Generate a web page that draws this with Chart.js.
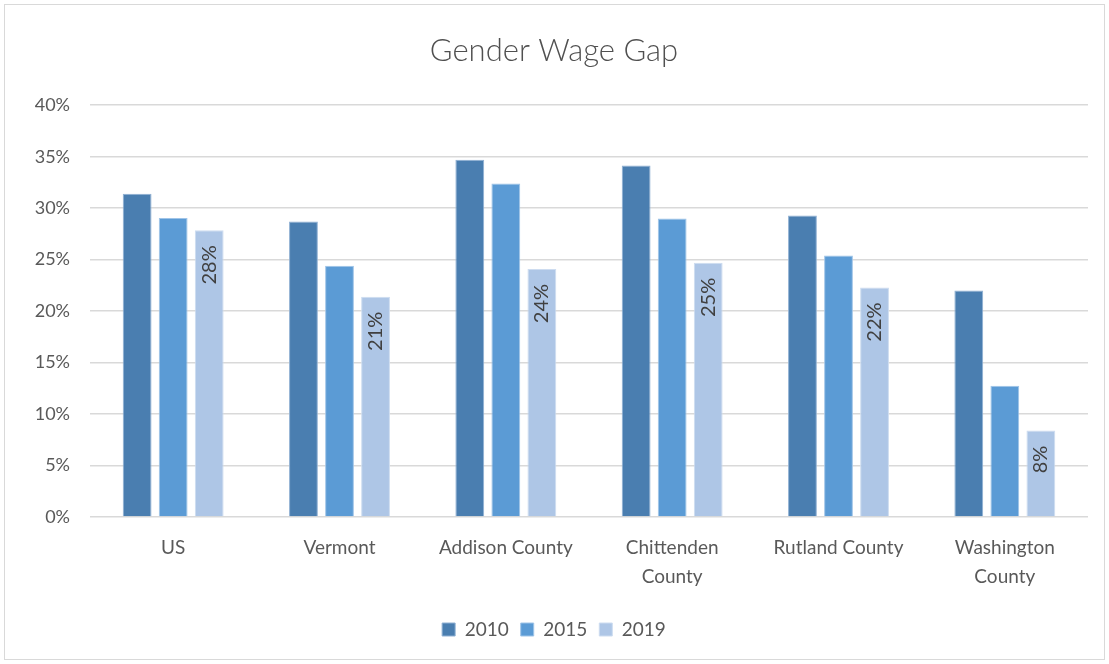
<!DOCTYPE html>
<html>
<head>
<meta charset="utf-8">
<script src="https://cdn.jsdelivr.net/npm/chart.js@4"></script>
<style>
html,body{margin:0;padding:0;background:#fff;}
#wrap{width:1109px;height:664px;position:relative;}
</style>
</head>
<body>
<div id="wrap"><canvas id="c" width="1109" height="664"></canvas></div>
<script>
const categories = ["US", "Vermont", "Addison County", ["Chittenden", "County"], "Rutland County", ["Washington", "County"]];
const series2010 = [31.4, 28.7, 34.7, 34.15, 29.3, 22.0];
const series2015 = [29.05, 24.4, 32.4, 29.0, 25.4, 12.75];
const series2019 = [27.85, 21.4, 24.1, 24.7, 22.3, 8.4];
const seriesNames = ["2010", "2015", "2019"];
const yTicks = [0, 5, 10, 15, 20, 25, 30, 35, 40];

const FONT = "Lato, 'Open Sans', sans-serif";

const bgPlugin = {
  id: 'bg',
  beforeDraw(chart) {
    const ctx = chart.ctx;
    ctx.save();
    ctx.fillStyle = '#fff';
    ctx.fillRect(0, 0, chart.width, chart.height);
    ctx.strokeStyle = '#d9d9d9';
    ctx.lineWidth = 1;
    ctx.strokeRect(4.5, 4.5, chart.width - 9, chart.height - 9);
    ctx.restore();
  }
};

const labelPlugin = {
  id: 'vlabels',
  afterDatasetsDraw(chart) {
    const ctx = chart.ctx;
    const meta = chart.getDatasetMeta(2);
    ctx.save();
    ctx.font = "20px " + FONT;
    ctx.fillStyle = '#404040';
    ctx.textAlign = 'right';
    ctx.textBaseline = 'middle';
    meta.data.forEach((bar, i) => {
      const v = series2019[i];
      ctx.save();
      ctx.translate(bar.x, bar.y + 15);
      ctx.rotate(-Math.PI / 2);
      ctx.fillText(Math.round(v) + '%', 0, 0);
      ctx.restore();
    });
    ctx.restore();
  }
};

new Chart(document.getElementById('c'), {
  type: 'bar',
  data: {
    labels: categories,
    datasets: [
      { label: seriesNames[0], data: series2010, backgroundColor: '#4a7eb0', borderColor: '#8fb0d3', borderWidth: 1 },
      { label: seriesNames[1], data: series2015, backgroundColor: '#5b9bd5', borderColor: '#9fc4e8', borderWidth: 1 },
      { label: seriesNames[2], data: series2019, backgroundColor: '#aec6e6', borderColor: '#cddcf0', borderWidth: 1 }
    ]
  },
  options: {
    responsive: false,
    animation: false,
    devicePixelRatio: 1,
    layout: { padding: { left: 20, right: 21, top: 10, bottom: 15 } },
    datasets: { bar: { categoryPercentage: 0.65, barPercentage: 0.8 } },
    plugins: {
      title: {
        display: true,
        text: 'Gender Wage Gap',
        color: '#505050',
        font: { family: FONT, size: 31, weight: '300' },
        padding: { top: 22, bottom: 36 }
      },
      legend: {
        position: 'bottom',
        labels: {
          color: '#595959',
          font: { family: FONT, size: 19 },
          boxWidth: 13, boxHeight: 13,
          padding: 12
        }
      },
      tooltip: { enabled: false }
    },
    scales: {
      x: {
        grid: { display: false, drawTicks: false },
        border: { display: false },
        ticks: { color: '#595959', font: { family: FONT, size: 19, lineHeight: 1.55 }, padding: 16, maxRotation: 0, autoSkip: false }
      },
      y: {
        min: 0, max: 40,
        afterBuildTicks(s) { s.ticks = yTicks.map(v => ({ value: v })); },
        afterFit(s) { s.width = 70; },
        grid: { color: '#d9d9d9', lineWidth: 1.5, drawTicks: false },
        border: { display: false },
        ticks: { color: '#595959', font: { family: FONT, size: 18 }, padding: 20, callback: v => v + '%' }
      }
    }
  },
  plugins: [bgPlugin, labelPlugin]
});
</script>
</body>
</html>
